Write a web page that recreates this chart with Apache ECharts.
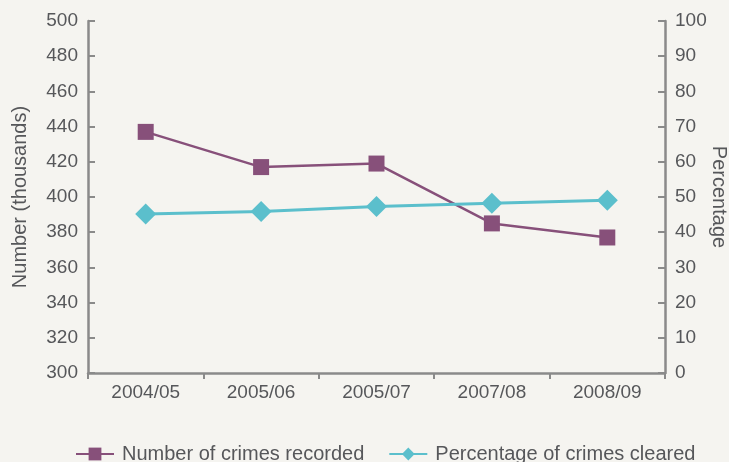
<!DOCTYPE html>
<html>
<head>
<meta charset="utf-8">
<script src="https://cdn.jsdelivr.net/npm/echarts@6/dist/echarts.min.js"></script>
<style>
html,body{margin:0;padding:0;background:#f5f4f0;}
#c{width:729px;height:462px;}
</style>
</head>
<body>
<div id="c"></div>
<script>
const categories = ['2004/05', '2005/06', '2005/07', '2007/08', '2008/09'];
const crimesRecorded = [437, 417, 419, 385, 377];
const percentCleared = [45.2, 45.9, 47.3, 48.2, 49.1];

const axisColor = '#8a8a8a';
const textColor = '#56575a';
const font = 'Liberation Sans, Arial, sans-serif';

const chart = echarts.init(document.getElementById('c'), null, {renderer: 'canvas'});
chart.setOption({
  backgroundColor: '#f5f4f0',
  animation: false,
  textStyle: {fontFamily: font},
  grid: {left: 88, right: 64, top: 21, bottom: 89, containLabel: false, outerBoundsMode: 'none'},
  legend: {
    bottom: -7,
    left: 70,
    itemWidth: 38,
    itemHeight: 16,
    itemGap: 24,
    textStyle: {fontSize: 20, color: textColor, fontFamily: font, padding: [0, 0, 0, 3]},
    data: ['Number of crimes recorded', 'Percentage of crimes cleared']
  },
  xAxis: {
    type: 'category',
    data: categories,
    boundaryGap: true,
    axisLine: {lineStyle: {color: axisColor, width: 2.5}},
    axisTick: {show: true, inside: false, length: 6, lineStyle: {color: axisColor, width: 2}},
    axisLabel: {color: textColor, fontSize: 19, margin: 10}
  },
  yAxis: [
    {
      type: 'value', min: 300, max: 500, interval: 20,
      name: 'Number (thousands)', nameLocation: 'middle', nameRotate: 90, nameGap: 58,
      nameMoveOverlap: false,
      nameTextStyle: {color: textColor, fontSize: 20},
      axisLine: {show: true, lineStyle: {color: axisColor, width: 2.5}},
      axisTick: {show: true, inside: true, length: 7, lineStyle: {color: axisColor, width: 2}},
      axisLabel: {color: textColor, fontSize: 19, margin: 10},
      splitLine: {show: false}
    },
    {
      type: 'value', min: 0, max: 100, interval: 10,
      name: 'Percentage', nameLocation: 'middle', nameRotate: -90, nameGap: 44,
      nameMoveOverlap: false,
      nameTextStyle: {color: textColor, fontSize: 20},
      axisLine: {show: true, lineStyle: {color: axisColor, width: 2.5}},
      axisTick: {show: true, inside: true, length: 7, lineStyle: {color: axisColor, width: 2}},
      axisLabel: {color: textColor, fontSize: 19, margin: 10},
      splitLine: {show: false}
    }
  ],
  series: [
    {
      name: 'Number of crimes recorded',
      type: 'line',
      yAxisIndex: 0,
      data: crimesRecorded,
      symbol: 'rect',
      symbolSize: 16,
      itemStyle: {color: '#87507a'},
      lineStyle: {color: '#87507a', width: 2.5}
    },
    {
      name: 'Percentage of crimes cleared',
      type: 'line',
      yAxisIndex: 1,
      data: percentCleared,
      symbol: 'diamond',
      symbolSize: 21,
      itemStyle: {color: '#5bbfcc'},
      lineStyle: {color: '#5bbfcc', width: 3}
    }
  ]
});
</script>
</body>
</html>
